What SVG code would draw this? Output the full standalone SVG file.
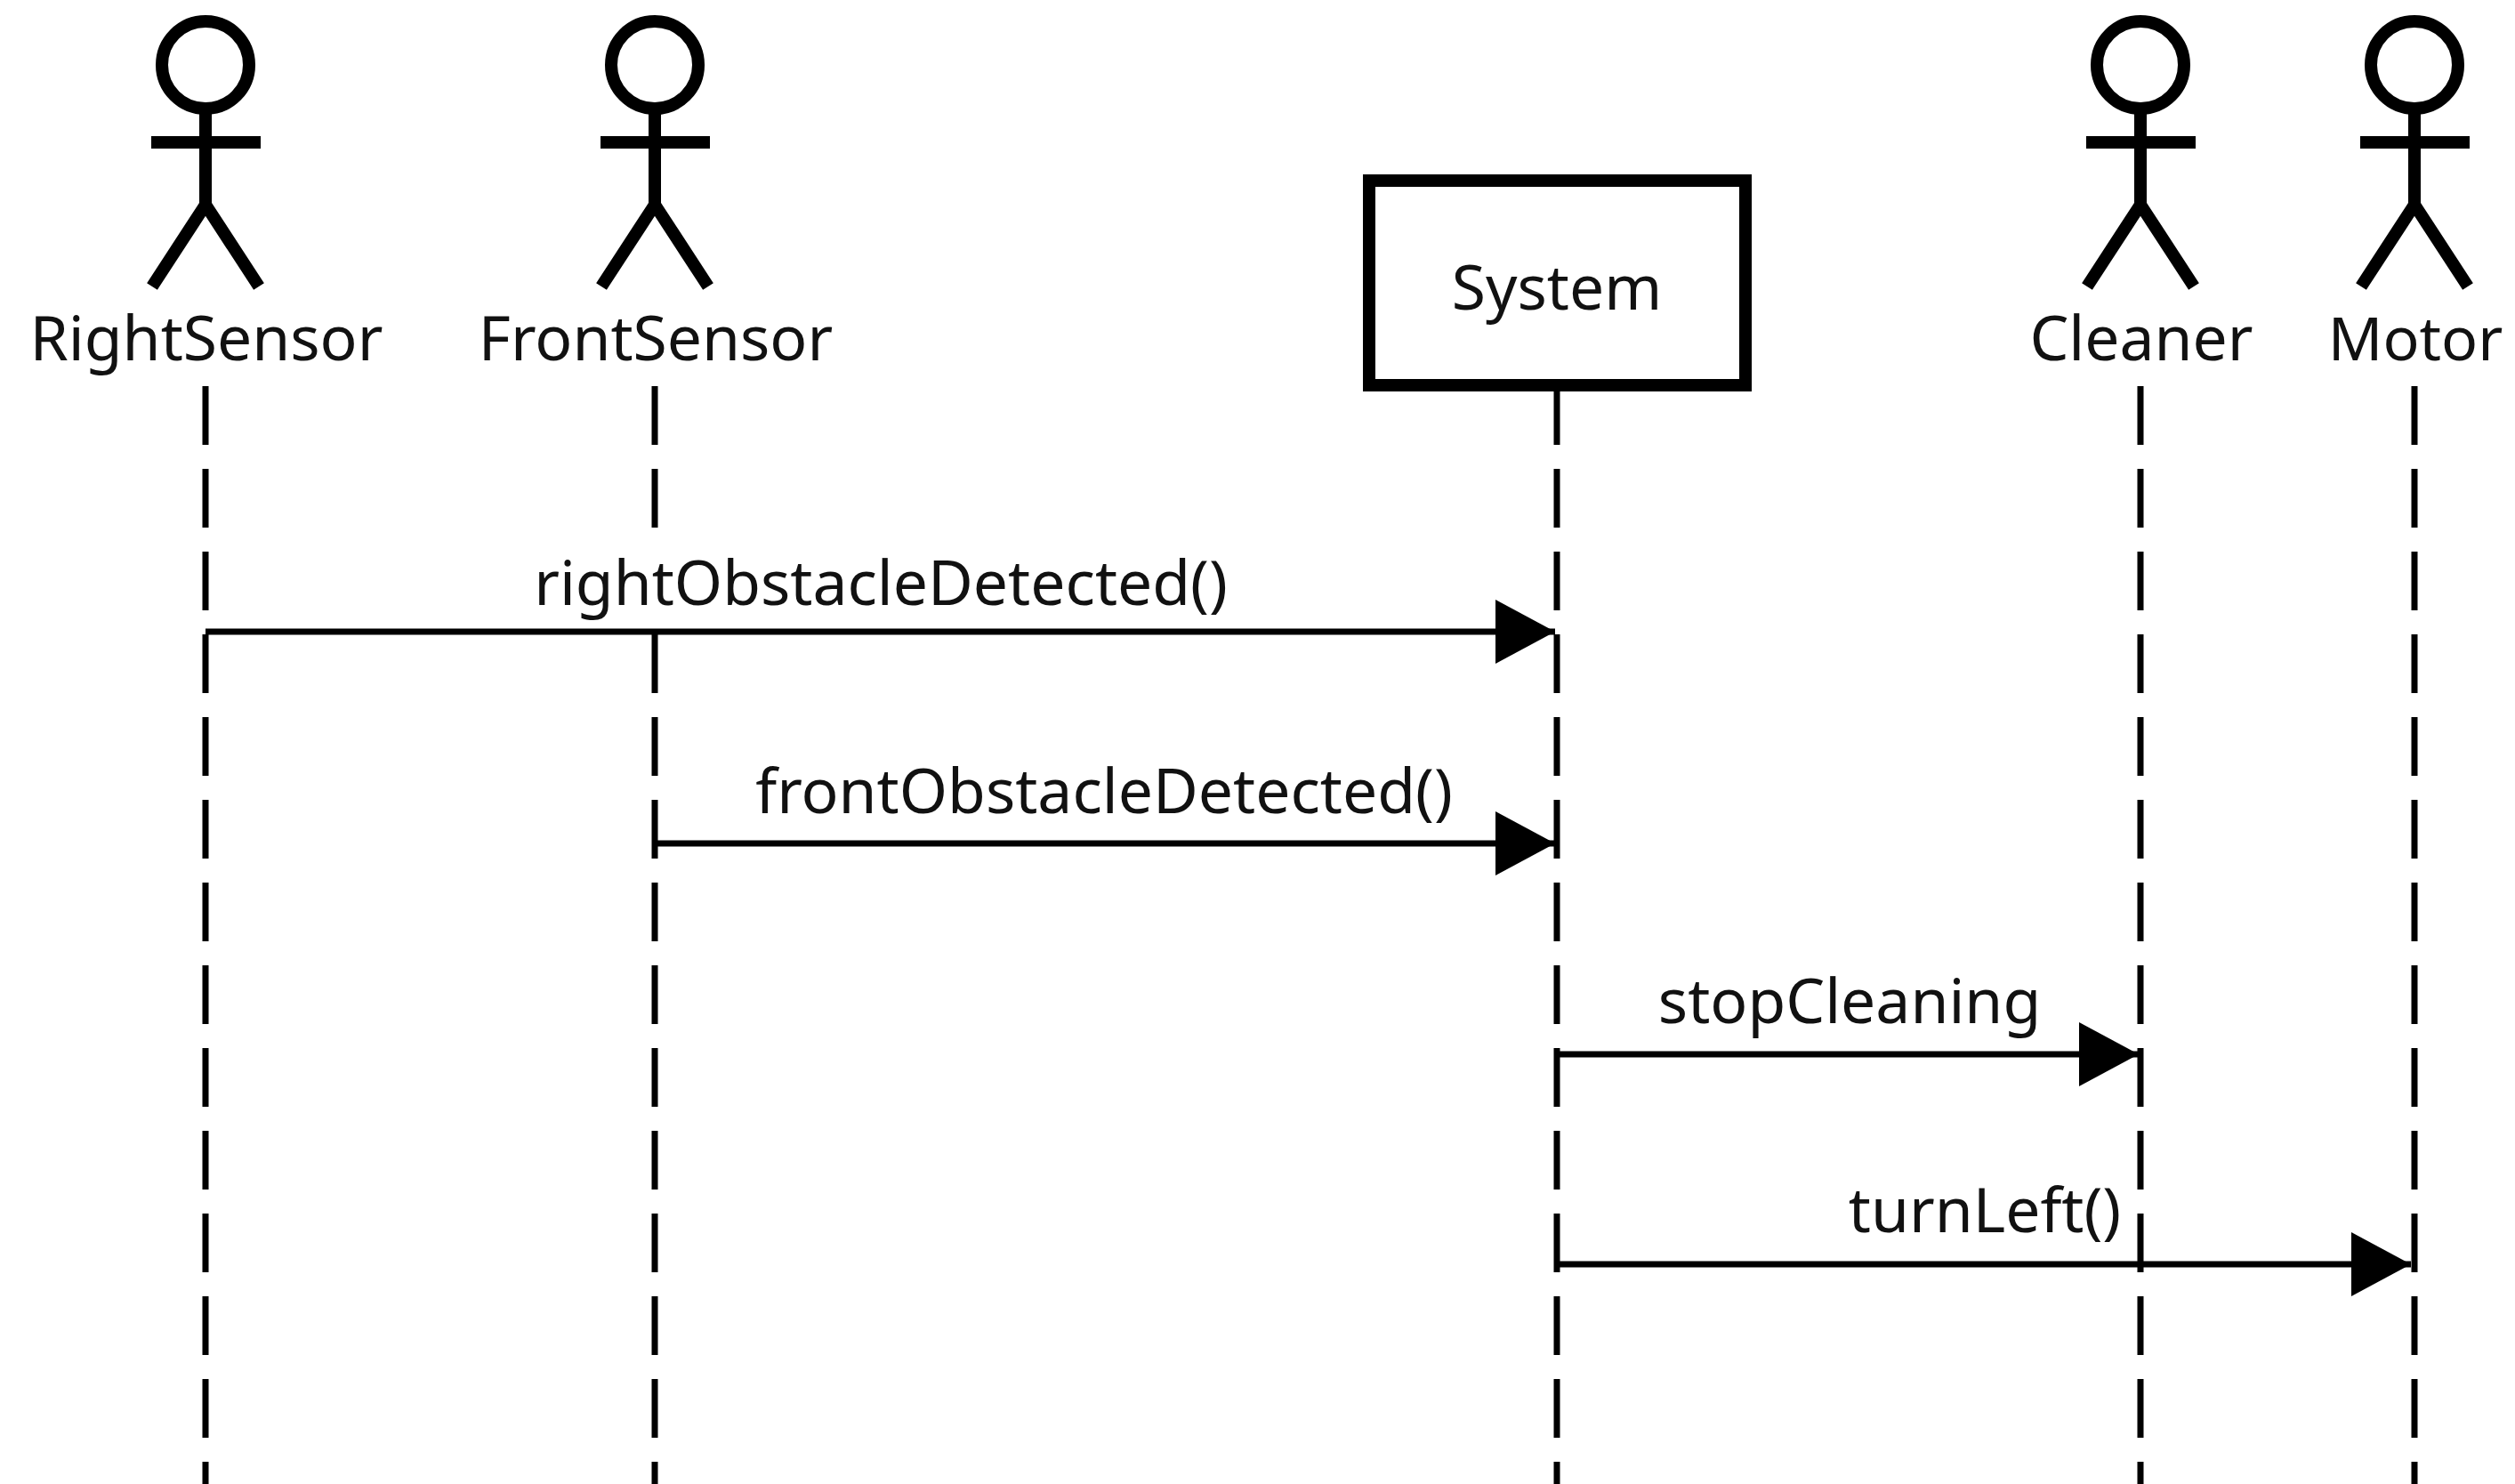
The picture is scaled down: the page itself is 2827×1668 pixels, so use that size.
<svg xmlns="http://www.w3.org/2000/svg" width="2827" height="1668" viewBox="0 0 2827 1668">
<style>
text{font-family:"Noto Sans","Open Sans",sans-serif;font-size:69.6px;fill:#111;text-anchor:middle}
.actor{fill:none;stroke:#000;stroke-width:14}
.life{stroke:#000;stroke-width:7;stroke-dasharray:66 27;fill:none}
.msg{stroke:#000;stroke-width:7;fill:none;marker-end:url(#arrow)}
.box{fill:#fff;stroke:#000;stroke-width:14}
.bg{fill:#fff}
</style>
<defs>
<marker id="arrow" markerUnits="userSpaceOnUse" markerWidth="68" markerHeight="72" refX="67" refY="36" orient="auto">
<path d="M0 0L67 36L0 72Z" fill="#000"/>
</marker>
<g id="stick">
<circle class="actor" cx="0" cy="73" r="49"/>
<path class="actor" d="M0 122V230M-61 160H62M0 230L-60 322M0 230L60 322"/>
</g>
</defs>
<rect width="2827" height="1668" fill="#fff"/>
<g id="connectors">
<path class="life" d="M231 434V1668"/>
<path class="life" d="M736 434V1668"/>
<path class="life" d="M1750 434V1668"/>
<path class="life" d="M2406 434V1668"/>
<path class="life" d="M2714 434V1668"/>
<rect class="bg" x="600" y="596" width="780" height="110"/>
<path class="msg" d="M231 710H1748"/>
<path class="msg" d="M736 948H1748"/>
<path class="msg" d="M1750 1185H2404"/>
<path class="msg" d="M1750 1421H2710"/>
<text x="990" y="680">rightObstacleDetected()</text>
<text x="1241" y="914">frontObstacleDetected()</text>
<text x="2079" y="1150">stopCleaning</text>
<text x="2231" y="1385">turnLeft()</text>
</g>
<g id="RightSensor"><use href="#stick" x="231"/><text x="232" y="405">RightSensor</text></g>
<g id="FrontSensor"><use href="#stick" x="736"/><text x="737" y="405">FrontSensor</text></g>
<g id="System"><rect class="box" x="1539" y="203" width="423" height="230"/><text x="1750" y="348">System</text></g>
<g id="Cleaner"><use href="#stick" x="2406"/><text x="2407" y="405">Cleaner</text></g>
<g id="Motor"><use href="#stick" x="2714"/><text x="2715" y="405" style="font-size:68px">Motor</text></g>
</svg>
